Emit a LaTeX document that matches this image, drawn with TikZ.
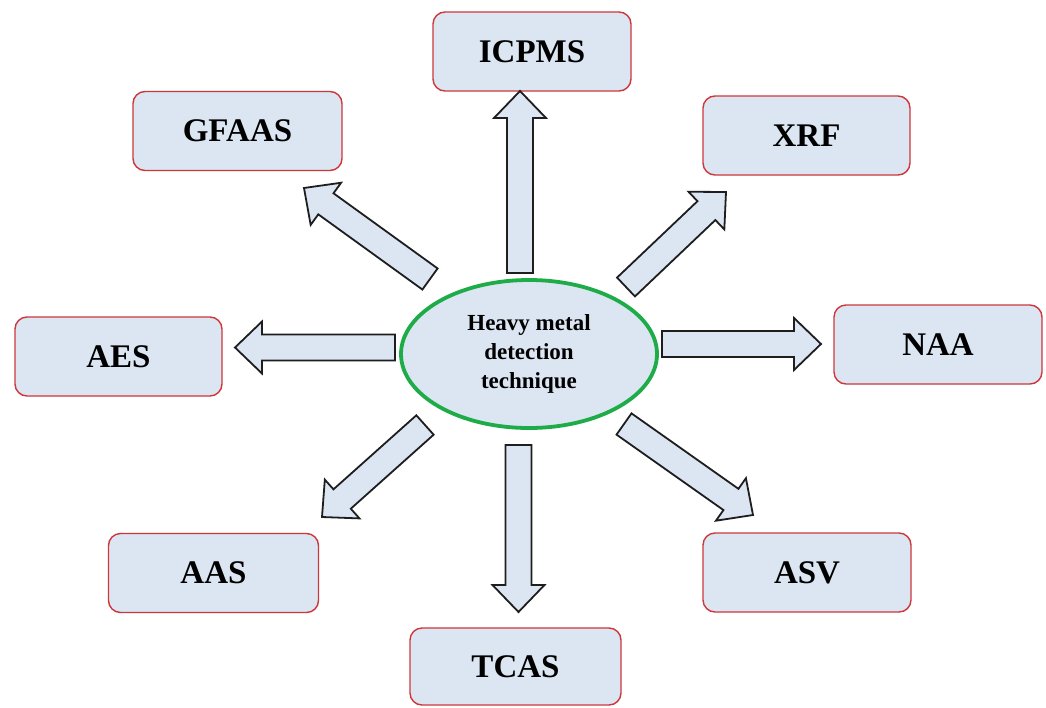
\documentclass[tikz,border=0pt]{standalone}
\usepackage{fontspec}
\setmainfont{Liberation Serif}
\usetikzlibrary{calc}
\definecolor{boxfill}{RGB}{220,230,242}
\definecolor{boxline}{RGB}{205,55,60}
\definecolor{arrline}{RGB}{30,30,30}
\definecolor{ellline}{RGB}{30,172,72}
\def\arsw{13pt}
\def\arhw{26pt}
\def\arhl{27pt}
\tikzset{
  techbox/.style={draw=boxline, fill=boxfill, line width=1.4pt, rounded corners=12pt,
    minimum width=208pt, minimum height=79pt, inner sep=0pt,
    font=\fontsize{33}{40}\selectfont\bfseries},
  centreell/.style={draw=ellline, fill=boxfill, line width=3.8pt, ellipse,
    minimum width=256pt, minimum height=148pt, inner sep=0pt, align=center,
    font=\fontsize{23}{29}\selectfont\bfseries},
  blockarrow/.style={draw=arrline, fill=boxfill, line width=1.8pt, line join=miter,
    to path={
      ($(\tikztostart)!\arsw!90:(\tikztotarget)$) --
      ($(\tikztotarget)!\arhl!(\tikztostart)!\arsw!-90:(\tikztostart)$) --
      ($(\tikztotarget)!\arhl!(\tikztostart)!\arhw!-90:(\tikztostart)$) --
      (\tikztotarget) --
      ($(\tikztotarget)!\arhl!(\tikztostart)!\arhw!90:(\tikztostart)$) --
      ($(\tikztotarget)!\arhl!(\tikztostart)!\arsw!90:(\tikztostart)$) --
      ($(\tikztostart)!\arsw!-90:(\tikztotarget)$) -- cycle
    }}
}
\usetikzlibrary{shapes.geometric}
\begin{document}
\begin{tikzpicture}[x=1pt,y=-1pt]
\useasboundingbox[fill=white] (0,0) rectangle (1046,707);
% central ellipse
\node[centreell] (c) at (529,354) {Heavy metal\\detection\\technique};
% boxes
\node[techbox, minimum width=198pt] (icpms) at (532,51.5) {ICPMS};
\node[techbox, minimum width=209pt] (gfaas) at (237.5,131) {GFAAS};
\node[techbox, minimum width=207pt] (xrf) at (806.5,135.5) {XRF};
\node[techbox, minimum width=207pt] (aes) at (118.5,356.5) {AES};
\node[techbox, minimum width=208pt] (naa) at (938,344.5) {NAA};
\node[techbox, minimum width=210pt] (aas) at (213.5,573) {AAS};
\node[techbox, minimum width=208pt] (asv) at (807,572.5) {ASV};
\node[techbox, minimum width=211pt, minimum height=77pt] (tcas) at (515.5,666.5) {TCAS};
% arrow ends
\coordinate (tu) at (520,273);   \coordinate (hu) at (520,91);
\coordinate (tl) at (395,347.5); \coordinate (hl) at (235,347.5);
\coordinate (tr) at (662,344);   \coordinate (hr) at (821,344);
\coordinate (td) at (518.5,445); \coordinate (hd) at (518.5,612);
\coordinate (tgf) at (430,279);  \coordinate (hgf) at (304,188);
\coordinate (txr) at (626,287);  \coordinate (hxr) at (726,192);
\coordinate (taa) at (425,425);  \coordinate (haa) at (322,517);
\coordinate (tas) at (624,424);  \coordinate (has) at (753,515);
% arrows
\draw[blockarrow] (tu) to (hu);
\draw[blockarrow] (tl) to (hl);
\draw[blockarrow] (tr) to (hr);
\draw[blockarrow] (td) to (hd);
\draw[blockarrow] (tgf) to (hgf);
\draw[blockarrow] (txr) to (hxr);
\draw[blockarrow] (taa) to (haa);
\draw[blockarrow] (tas) to (has);
\end{tikzpicture}
\end{document}
